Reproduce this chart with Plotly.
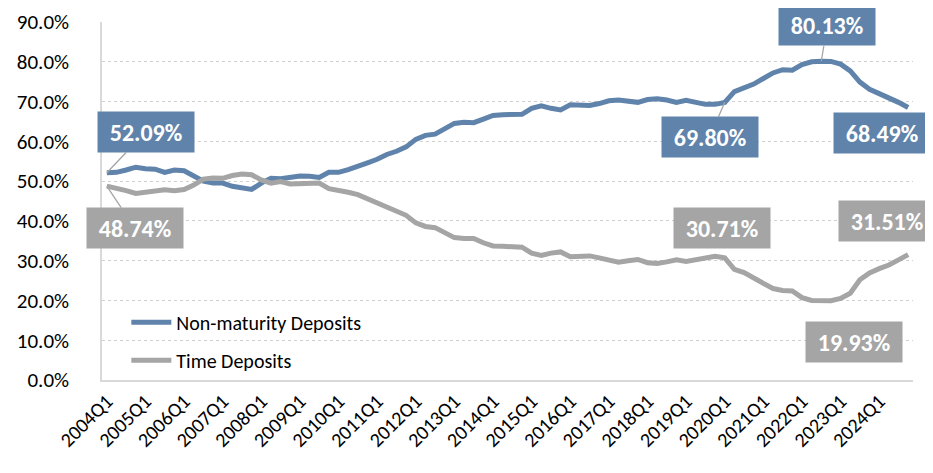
import plotly.graph_objects as go

quarters = [f"{y}Q{q}" for y in range(2004, 2025) for q in range(1, 5)]
tick_labels = [f"{y}Q1" for y in range(2004, 2025)]

non_maturity = [
    52.09, 52.2, 52.8, 53.5, 53.1, 53.0, 52.2, 52.8, 52.6, 51.4,
    50.0, 49.5, 49.5, 48.7, 48.2, 47.9, 49.5, 50.7, 50.6, 51.1,
    51.3, 51.2, 50.9, 52.2, 52.2, 52.9, 53.6, 54.6, 55.5, 56.7,
    57.5, 58.6, 60.5, 61.5, 61.8, 63.2, 64.5, 64.8, 64.7, 65.6,
    66.5, 66.7, 66.7, 66.8, 68.3, 68.9, 68.3, 67.9, 69.2, 69.2,
    69.0, 69.5, 70.2, 70.4, 70.0, 69.8, 70.5, 70.7, 70.4, 69.8,
    70.3, 69.7, 69.3, 69.3, 69.80, 72.5, 73.3, 74.4, 75.8, 77.2,
    78.0, 77.9, 79.3, 80.0, 80.13, 80.1, 79.4, 77.7, 74.9, 73.1,
    72.0, 71.0, 69.8, 68.49,
]

time_deposits = [
    48.74, 48.3, 47.6, 46.9, 47.1, 47.3, 47.8, 47.6, 47.9, 49.0,
    50.5, 50.8, 50.7, 51.4, 51.8, 51.6, 50.3, 49.5, 49.9, 49.3,
    49.3, 49.4, 49.5, 48.1, 47.8, 47.2, 46.6, 45.6, 44.6, 43.4,
    42.5, 41.4, 39.5, 38.6, 38.3, 36.9, 35.8, 35.6, 35.6, 34.5,
    33.7, 33.6, 33.6, 33.4, 31.9, 31.3, 31.9, 32.2, 31.0, 31.0,
    31.2, 30.7, 30.0, 29.6, 30.0, 30.3, 29.5, 29.3, 29.7, 30.2,
    29.8, 30.3, 30.8, 31.1, 30.71, 27.8, 27.0, 25.8, 24.3, 23.0,
    22.5, 22.4, 20.7, 20.0, 19.93, 19.95, 20.5, 21.8, 25.2, 26.9,
    28.0, 28.9, 30.2, 31.51,
]

BLUE = "#5F83AB"
GRAY = "#A5A5A5"
FONT = "Carlito, Lato, sans-serif"

fig = go.Figure()
fig.add_trace(go.Scatter(x=quarters, y=non_maturity, mode="lines", name="Non-maturity Deposits",
                         line=dict(color=BLUE, width=5), legend="legend"))
fig.add_trace(go.Scatter(x=quarters, y=time_deposits, mode="lines", name="Time Deposits",
                         line=dict(color=GRAY, width=5), legend="legend2"))

# annotations: (series, index, color, ax, ay, leader)
ann_specs = [
    (non_maturity, 0, BLUE, 39, -41, True),
    (time_deposits, 0, GRAY, 28, 42, True),
    (non_maturity, 74, BLUE, 6, -36, True),
    (non_maturity, 64, BLUE, -15, 35, True),
    (non_maturity, 83, BLUE, -26, 25, False),
    (time_deposits, 64, GRAY, -3, -30, False),
    (time_deposits, 83, GRAY, -21, -34, False),
    (time_deposits, 74, GRAY, 33, 41, False),
]
for series, idx, col, ax, ay, leader in ann_specs:
    fig.add_annotation(
        x=quarters[idx], y=series[idx], xref="x", yref="y",
        text=f"<b>{series[idx]:.2f}%</b>",
        showarrow=True, arrowhead=0, arrowwidth=1.3,
        arrowcolor="#A5A5A5" if leader else "rgba(0,0,0,0)",
        ax=ax, ay=ay, axref="pixel", ayref="pixel",
        bgcolor=col, borderpad=6, width=84, height=28,
        font=dict(family=FONT, size=24, color="white"),
    )

legend_common = dict(xanchor="left", yanchor="middle", bgcolor="rgba(0,0,0,0)",
                     font=dict(size=20, family=FONT), itemwidth=40)
fig.update_layout(
    width=933, height=473,
    margin=dict(l=94, r=28, t=14, b=101, autoexpand=False),
    plot_bgcolor="white", paper_bgcolor="white",
    font=dict(family=FONT, color="black"),
    showlegend=True,
    legend=dict(x=0.03, y=0.161, **legend_common),
    legend2=dict(x=0.03, y=0.055, **legend_common),
)
fig.update_xaxes(
    type="category", categoryorder="array", categoryarray=quarters,
    range=[-0.5, len(quarters) - 0.5], automargin=False,
    tickmode="array", tickvals=tick_labels, ticktext=tick_labels,
    tickangle=-45, tickfont=dict(size=20, family=FONT),
    showgrid=False, showline=True, linecolor="#D9D9D9", linewidth=1.5,
    ticks="", ticklabeloverflow="allow",
)
fig.update_yaxes(
    range=[0, 90], dtick=10, tickformat=".1f", ticksuffix="%",
    tickfont=dict(size=21, family=FONT), automargin=False,
    showgrid=True, gridcolor="#D0D0D0", griddash="dot", gridwidth=1.3,
    zeroline=False, showline=True, linecolor="#D9D9D9", linewidth=1.5,
    ticks="", ticklabelstandoff=27, ticklabeloverflow="allow",
)

fig.write_html("out.html")
